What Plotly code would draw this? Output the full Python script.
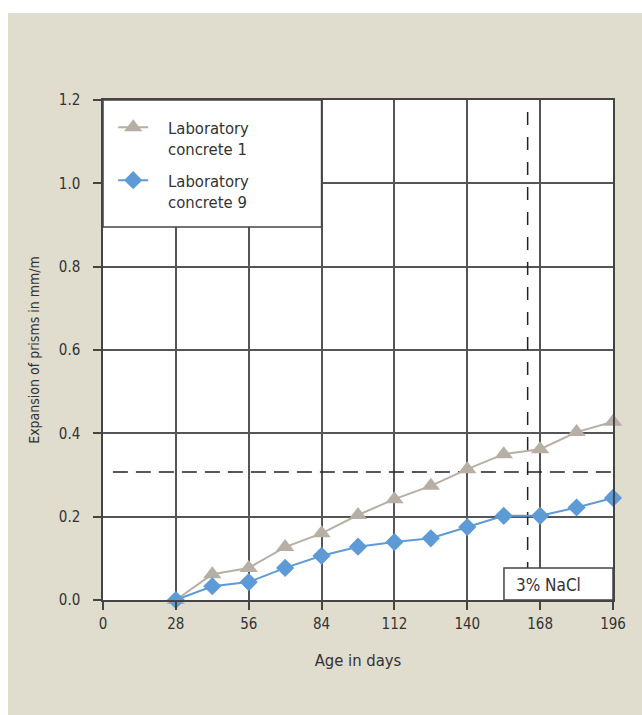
import plotly.graph_objects as go

# ---- data ----
age_days = [28, 42, 56, 70, 84, 98, 112, 126, 140, 154, 168, 182, 196]
concrete_1 = [0.0, 0.062, 0.077, 0.127, 0.160, 0.204, 0.242, 0.274, 0.314, 0.350, 0.362, 0.403, 0.428]
concrete_9 = [0.0, 0.033, 0.043, 0.077, 0.106, 0.128, 0.139, 0.148, 0.175, 0.202, 0.202, 0.222, 0.245]
x_ticks = [0, 28, 56, 84, 112, 140, 168, 196]
y_ticks = [0.0, 0.2, 0.4, 0.6, 0.8, 1.0, 1.2]
series_names = ["Laboratory<br>concrete 1", "Laboratory<br>concrete 9"]

# reference lines / boxes (data coordinates)
limit_expansion = 0.307
nacl_day = 163.2
legend_box = dict(x0=0, x1=84, y0=0.895, y1=1.2)
nacl_box = dict(x0=154.1, x1=196, y0=0, y1=0.077)

FONT = "DejaVu Sans Condensed, DejaVu Sans, sans-serif"
TXT = "#333333"
GRID = "#555555"
BEIGE = "#e0dcce"

PAD = "\u2002\u2002"  # indent legend text away from the symbol


def legend_label(name):
    return "<br>".join(PAD + part for part in name.split("<br>"))


fig = go.Figure()
fig.add_trace(go.Scatter(
    x=age_days, y=concrete_1, name=legend_label(series_names[0]), mode="lines+markers",
    legendgroup="c1",
    line=dict(color="#b7afa5", width=2),
    marker=dict(symbol="triangle-up", size=16, color="#b7afa5"),
    cliponaxis=False))
fig.add_trace(go.Scatter(
    x=age_days, y=concrete_9, name=legend_label(series_names[1]), mode="lines+markers",
    legendgroup="c9",
    line=dict(color="#5e9bd6", width=2),
    marker=dict(symbol="diamond", size=14, color="#5e9bd6"),
    cliponaxis=False))

shapes = []
# white strips outside the beige panel
shapes.append(dict(type="rect", xref="paper", yref="paper", x0=-0.25, x1=1.2,
                   y0=1.174, y1=1.3, fillcolor="white", line_width=0, layer="below"))
shapes.append(dict(type="rect", xref="paper", yref="paper", x0=-0.25, x1=-0.1863,
                   y0=-0.3, y1=1.3, fillcolor="white", line_width=0, layer="below"))
# dashed reference lines
shapes.append(dict(type="line", xref="x", yref="y", x0=3.8, x1=196,
                   y0=limit_expansion, y1=limit_expansion,
                   line=dict(color="#222222", width=1.5, dash="15px,8px"), layer="between"))
shapes.append(dict(type="line", xref="x", yref="y", x0=nacl_day, x1=nacl_day,
                   y0=0, y1=1.2,
                   line=dict(color="#222222", width=1.5, dash="13px,12px"), layer="between"))
# legend box and NaCl box
shapes.append(dict(type="rect", xref="x", yref="y", **legend_box,
                   fillcolor="white", line=dict(color="#444444", width=1.5), layer="between"))
shapes.append(dict(type="rect", xref="x", yref="y", **nacl_box,
                   fillcolor="white", line=dict(color="#444444", width=1.5), layer="between"))

fig.update_layout(
    width=642, height=715,
    margin=dict(l=103, r=29, t=100, b=115),
    paper_bgcolor=BEIGE, plot_bgcolor="white",
    font=dict(family=FONT, color=TXT, size=15),
    shapes=shapes,
    showlegend=True,
    legend=dict(x=0.02, y=0.98, xanchor="left", yanchor="top",
                bgcolor="rgba(0,0,0,0)", borderwidth=0,
                font=dict(family=FONT, size=16.5, color=TXT),
                valign="top", itemwidth=30, tracegroupgap=7),
    annotations=[dict(x=158, y=0.036, xref="x", yref="y", text="3% NaCl",
                      showarrow=False, xanchor="left", yanchor="middle",
                      font=dict(family=FONT, size=17, color=TXT))],
    xaxis=dict(range=[0, 196], tickvals=x_ticks, ticktext=[str(v) for v in x_ticks],
               showgrid=True, gridcolor=GRID, gridwidth=1.5,
               showline=True, linecolor="#444444", linewidth=1.5, mirror=True,
               ticks="outside", ticklen=8, tickcolor="#444444", tickwidth=1.5,
               zeroline=False, ticklabelstandoff=1,
               title=dict(text="Age in days", font=dict(size=16.5), standoff=23)),
    yaxis=dict(range=[0, 1.2], tickvals=y_ticks, ticktext=[f"{v:.1f}" for v in y_ticks],
               showgrid=True, gridcolor=GRID, gridwidth=1.5,
               showline=True, linecolor="#444444", linewidth=1.5, mirror=True,
               ticks="outside", ticklen=8, tickcolor="#444444", tickwidth=1.5,
               zeroline=False, ticklabelstandoff=10,
               title=dict(text="Expansion of prisms in mm/m", font=dict(size=14), standoff=16)),
)

fig.write_html("out.html")
